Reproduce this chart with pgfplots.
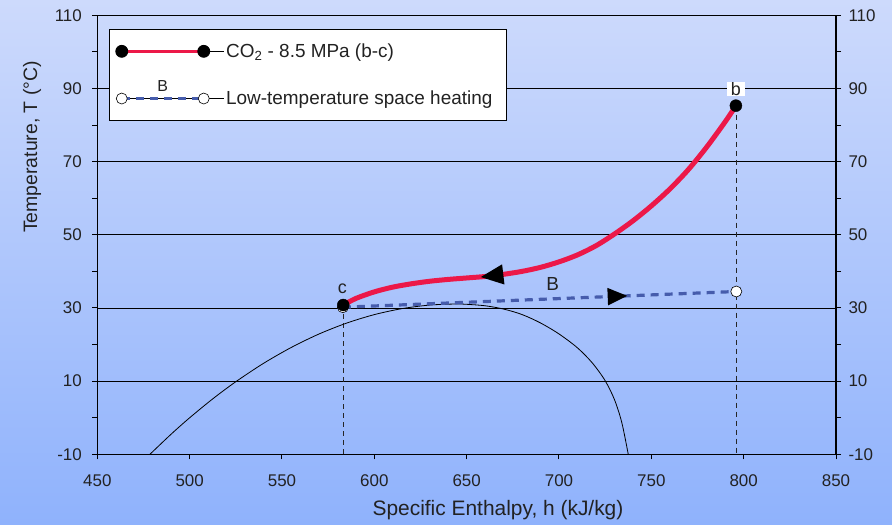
\documentclass[border=0pt]{standalone}
\usepackage{pgfplots}
\pgfplotsset{compat=1.18}
\usepackage{fontspec}
\setmainfont{Liberation Sans}
\usetikzlibrary{decorations.markings}
\definecolor{bgtop}{RGB}{205,218,252}
\definecolor{bgbot}{RGB}{143,178,252}
\definecolor{co2red}{RGB}{236,24,72}
\definecolor{hblue}{RGB}{70,92,172}
\definecolor{txt}{RGB}{34,34,34}

\pgfplotstableread{
x y
795.8 85.3
790 80.9
780 74.0
770 67.8
760 62.5
750 57.9
740 53.8
730 50.2
720 47.0
710 44.5
700 42.6
690 41.1
680 40.0
670 39.2
660 38.6
650 38.2
640 37.8
630 37.3
620 36.6
610 35.7
600 34.4
590 32.6
583.2 30.8
}\coTwo

\pgfplotstableread{
x y
478.5 -10
490 -4.49
500 -0.02
512.5 5.15
525 9.84
540 14.86
555 19.20
570 22.87
585 25.86
600 28.18
615 29.82
630 30.79
644 31.08
650 31.0
660 30.6
670 29.7
680 28.2
690 25.9
700 22.9
710 19.1
718 15.0
724.9 10.2
730 5.0
734 -1.3
737.5 -10
}\dome

\pgfplotstableread{
x y
583.0 30.2
796.0 34.5
}\heat

\tikzset{flowarrow/.style={decoration={markings, mark=at position #1 with {\fill[black, solid] (7bp,0bp) -- (-7bp,6.3bp) -- (-7bp,-6.3bp) -- cycle;}}, postaction={decorate}}}

\begin{document}
\begin{tikzpicture}[x=1bp,y=1bp]
\fill[top color=bgtop,bottom color=bgbot] (-97.3,-70.7) rectangle (794.7,454.3);
\begin{axis}[
  at={(0,0)}, anchor=south west,
  scale only axis, width=738.7bp, height=439bp,
  xmin=450, xmax=850, ymin=-10, ymax=110,
  xtick={450,500,...,850},
  ytick={-10,10,...,110},
  minor ytick={0,20,...,100},
  tick align=outside,
  xtick pos=bottom, ytick pos=left,
  major tick length=5bp, minor tick length=5bp,
  ymajorgrids,
  major grid style={black, line width=0.8bp},
  axis line style={black, line width=1.2bp},
  tick style={black, line width=1bp},
  /pgf/number format/assume math mode=true,
  ticklabel style={font=\fontsize{17}{17}\selectfont, text=txt},
  yticklabel style={xshift=-7bp},
  xticklabel style={yshift=-12bp},
  xlabel={Specific Enthalpy, h (kJ/kg)},
  ylabel={Temperature, T (°C)},
  xlabel style={font=\fontsize{21}{21}\selectfont, text=txt, at={(axis description cs:0.5424,-0.128)}, anchor=center},
  ylabel style={font=\fontsize{19.5}{19.5}\selectfont, text=txt, at={(axis description cs:-0.0884,0.70)}, anchor=center},
  legend style={at={(axis description cs:0.0158,0.968)}, anchor=north west,
    draw=black, line width=0.8bp, fill=white,
    font=\fontsize{19}{19}\selectfont, text=txt,
    inner xsep=6bp, inner ysep=12bp, row sep=28bp},
  legend cell align=left,
]
\addlegendimage{legend image code/.code={
  \path (-6bp,0bp) -- (102bp,0bp);
  \draw[co2red, line width=3.5bp] (0bp,0bp) -- (82bp,0bp);
  \fill[black] (0bp,0bp) circle (6bp);
  \fill[black] (82bp,0bp) circle (6bp);}}
\addlegendentry{CO\textsubscript{2} - 8.5 MPa (b-c)}
\addlegendimage{legend image code/.code={
  \path (-6bp,0bp) -- (102bp,0bp);
  \draw[hblue, line width=3bp, dash pattern=on 8bp off 6bp] (0bp,0bp) -- (82bp,0bp);
  \filldraw[fill=white, draw=black, line width=0.6bp] (0bp,0bp) circle (5.5bp);
  \filldraw[fill=white, draw=black, line width=0.6bp] (82bp,0bp) circle (5.5bp);
  \node[overlay, font=\fontsize{16}{16}\selectfont, text=txt, anchor=south, inner sep=0pt] at (41bp,5bp) {B};}}
\addlegendentry{Low-temperature space heating\rule{6bp}{0pt}}

% vertical dashed guides
\addplot[forget plot, black!85, line width=0.8bp, dash pattern=on 5bp off 4bp] coordinates {(583.2,30.8) (583.2,-10)};
\addplot[forget plot, black!85, line width=0.8bp, dash pattern=on 5bp off 4bp] coordinates {(795.8,85.3) (795.8,-10)};
% saturation dome
\addplot[forget plot, black, line width=0.8bp, smooth, tension=0.5] table[x=x,y=y] {\dome};
% heating line
\addplot[forget plot, hblue, line width=3.2bp, dash pattern=on 8bp off 6bp, flowarrow=0.695]
  table[x=x,y=y] {\heat};
\addplot[forget plot, only marks, mark=*, mark size=5.5bp, mark options={solid, fill=white, draw=black, line width=0.6bp}] table[x=x,y=y] {\heat};
% CO2 curve
\addplot[forget plot, co2red, line width=5bp, smooth, tension=0.5, flowarrow=0.665]
  table[x=x,y=y] {\coTwo};
\addplot[forget plot, only marks, mark=*, mark size=6bp, black] coordinates {(583.2,30.8) (795.8,85.3)};

\node[fill=white, inner xsep=4bp, inner ysep=0.5bp, font=\fontsize{18}{18}\selectfont, text=txt] at (axis cs:795.8,89.9) {b};
\node[font=\fontsize{18}{18}\selectfont, text=txt] at (axis cs:582.7,35.2) {c};
\node[font=\fontsize{19}{19}\selectfont, text=txt] at (axis cs:696.6,36.6) {B};
\end{axis}
\begin{axis}[
  at={(0,0)}, anchor=south west,
  scale only axis, width=738.7bp, height=439bp,
  xmin=450, xmax=850, ymin=-10, ymax=110,
  axis x line=none, axis y line*=right,
  ytick={-10,10,...,110},
  minor ytick={0,20,...,100},
  tick align=outside,
  major tick length=5bp, minor tick length=5bp,
  axis line style={black, line width=1.2bp},
  tick style={black, line width=1bp},
  /pgf/number format/assume math mode=true,
  ticklabel style={font=\fontsize{17}{17}\selectfont, text=txt},
  yticklabel style={xshift=4bp},
]
\addplot[draw=none] coordinates {(450,0)};
\end{axis}
\pgfresetboundingbox
\path[use as bounding box] (-97.3,-70.7) rectangle (794.7,454.3);
\end{tikzpicture}
\end{document}
